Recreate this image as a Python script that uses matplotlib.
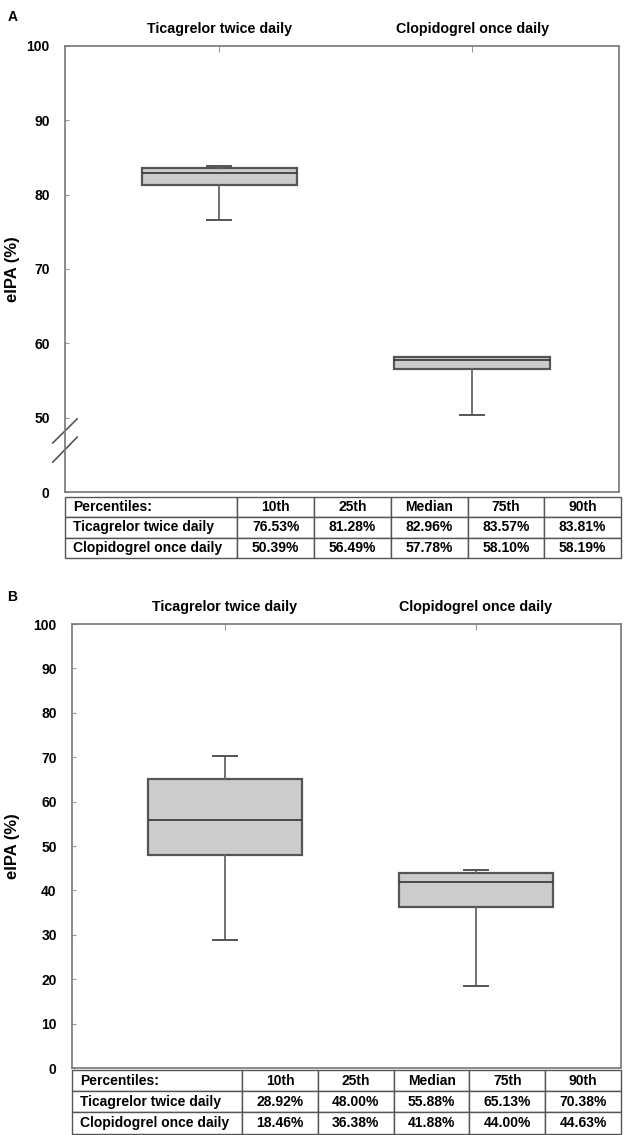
import matplotlib
matplotlib.use("Agg")
import matplotlib.pyplot as plt

plt.rcParams['font.family'] = ['Liberation Sans', 'DejaVu Sans']
plt.rcParams['font.weight'] = 'bold'

groups = ['Ticagrelor twice daily', 'Clopidogrel once daily']
pct_names = ['10th', '25th', 'Median', '75th', '90th']

# percentiles (10th, 25th, median, 75th, 90th), %
a_tica = [76.53, 81.28, 82.96, 83.57, 83.81]
a_clop = [50.39, 56.49, 57.78, 58.10, 58.19]
b_tica = [28.92, 48.00, 55.88, 65.13, 70.38]
b_clop = [18.46, 36.38, 41.88, 44.00, 44.63]

a_yticks = [40, 50, 60, 70, 80, 90, 100]
a_ylabels = ['0', '50', '60', '70', '80', '90', '100']
b_yticks = list(range(0, 101, 10))

EDGE = '#555555'
FILL = '#cccccc'
FS = 10


def stats(vals, label):
    p10, q1, med, q3, p90 = vals
    return dict(label=label, whislo=p10, q1=q1, med=med, q3=q3, whishi=p90, fliers=[])


def draw_panel(ax, tax, series, yticks, ylabels, ylim, label_x):
    st = [stats(v, g) for v, g in zip(series, groups)]
    ax.bxp(st, positions=[1, 2], widths=0.615, capwidths=0.095, showfliers=False,
           patch_artist=True,
           boxprops=dict(facecolor=FILL, edgecolor=EDGE, linewidth=1.6),
           medianprops=dict(color='#333333', linewidth=1.2),
           whiskerprops=dict(color='#666666', linewidth=1.3),
           capprops=dict(color='#555555', linewidth=1.4))
    ax.set_xlim(0.39, 2.58)
    ax.set_ylim(*ylim)
    ax.set_yticks(yticks)
    ax.set_yticklabels(ylabels)
    ax.set_xticks([1, 2])
    ax.set_xticklabels(groups)
    ax.xaxis.tick_top()
    ax.tick_params(axis='x', direction='in', length=4, color='#999999', pad=7,
                   labelsize=10.3, top=True, bottom=False)
    ax.tick_params(axis='y', direction='in', length=3, color='#999999', pad=11,
                   labelsize=10)
    for lab in ax.get_xticklabels() + ax.get_yticklabels():
        lab.set_fontweight('bold')
    for s in ax.spines.values():
        s.set_color('#777777')
        s.set_linewidth(1.2)
    ax.set_ylabel('eIPA (%)', fontsize=12, fontweight='bold')
    ax.yaxis.set_label_coords(label_x, 0.5)

    cells = [[g] + ['%.2f%%' % v for v in vals] for g, vals in zip(groups, series)]
    tax.axis('off')
    tab = tax.table(cellText=cells, colLabels=['Percentiles:'] + pct_names,
                    bbox=[0, 0, 1, 1], colWidths=[0.31] + [0.138] * 5,
                    cellLoc='center')
    tab.auto_set_font_size(False)
    for (r, c), cell in tab.get_celld().items():
        cell.set_edgecolor('#555555')
        cell.set_linewidth(1.0)
        cell.get_text().set_fontsize(FS)
        cell.get_text().set_fontweight('bold')
        if c == 0:
            cell.get_text().set_ha('left')
            cell.PAD = 0.045


fig = plt.figure(figsize=(6.29, 11.35), dpi=100)

axA = fig.add_axes([0.1033, 0.5665, 0.8808, 0.393])
tA = fig.add_axes([0.1033, 0.5084, 0.8840, 0.0537])
draw_panel(axA, tA, [a_tica, a_clop], a_yticks, a_ylabels, (40, 100), -0.082)

# axis break marks
for y0, y1 in [(0.110, 0.164), (0.067, 0.123)]:
    axA.plot([-0.022, 0.022], [y0, y1], transform=axA.transAxes, color='#555555',
             linewidth=1.2, clip_on=False)

axB = fig.add_axes([0.1145, 0.0590, 0.8728, 0.3912])
tB = fig.add_axes([0.1145, 0.0012, 0.8728, 0.0561])
draw_panel(axB, tB, [b_tica, b_clop], b_yticks, [str(t) for t in b_yticks], (0, 100), -0.095)

fig.text(0.012, 0.991, 'A', fontsize=10, fontweight='bold', va='top')
fig.text(0.012, 0.480, 'B', fontsize=10, fontweight='bold', va='top')

fig.savefig('out.png', dpi=100)
